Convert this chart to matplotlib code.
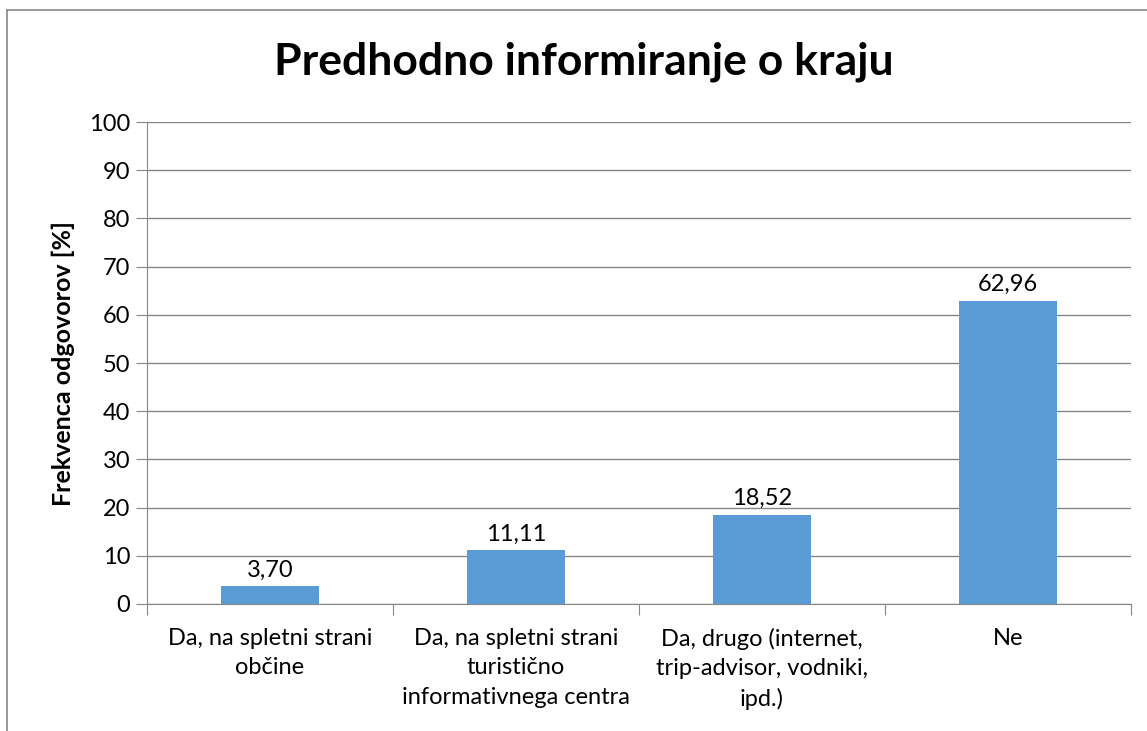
import numpy as np
import matplotlib.pyplot as plt
from matplotlib.lines import Line2D

plt.rcParams['font.family'] = ['Lato', 'DejaVu Sans']

# Data
categories = ['Da, na spletni strani\nobčine',
              'Da, na spletni strani\nturistično\ninformativnega centra',
              'Da, drugo (internet,\ntrip-advisor, vodniki,\nipd.)',
              'Ne']
values = [3.70, 11.11, 18.52, 62.96]
yticks = [0, 10, 20, 30, 40, 50, 60, 70, 80, 90, 100]

W, H = 1147, 731
fig = plt.figure(figsize=(W/100, H/100), dpi=100)
ax = fig.add_axes([147/W, 1-604/H, (1131-147)/W, (604-122)/H])

grey = '#868686'
x = np.arange(len(categories))
ax.bar(x, values, width=0.4, color='#5B9BD5', zorder=3)
for xi, v in zip(x, values):
    ax.text(xi, v + 1.2, f'{v:.2f}'.replace('.', ','), ha='center', va='bottom', fontsize=17)

ax.set_xlim(-0.5, len(categories) - 0.5)
ax.set_ylim(0, 100)
ax.set_yticks(yticks)
ax.tick_params(axis='y', labelsize=17, length=8, color=grey, pad=4)
ax.yaxis.grid(True, color=grey, linewidth=1, zorder=0)

# category boundary ticks
ax.set_xticks(np.arange(-0.5, len(categories)), minor=False)
ax.set_xticklabels([])
ax.tick_params(axis='x', length=8, color=grey)
ax.set_xticks(x, minor=True)
ax.set_xticklabels(categories, minor=True, fontsize=17, linespacing=1.5)
ax.tick_params(axis='x', which='minor', length=0, pad=17)

for s in ['top', 'right']:
    ax.spines[s].set_visible(False)
for s in ['left', 'bottom']:
    ax.spines[s].set_color(grey)

ax.set_ylabel('Frekvenca odgovorov [%]', fontsize=18, fontweight='bold', labelpad=10)
fig.text(584/W, 1-62/H, 'Predhodno informiranje o kraju', ha='center', va='center',
         fontsize=32, fontweight='bold')

# chart frame (only top and left visible)
fig.add_artist(Line2D([7/W, 1], [1-10/H, 1-10/H], color=grey, linewidth=1.2))
fig.add_artist(Line2D([7/W, 7/W], [0, 1-10/H], color=grey, linewidth=1.2))

plt.savefig('out.png', dpi=100)
